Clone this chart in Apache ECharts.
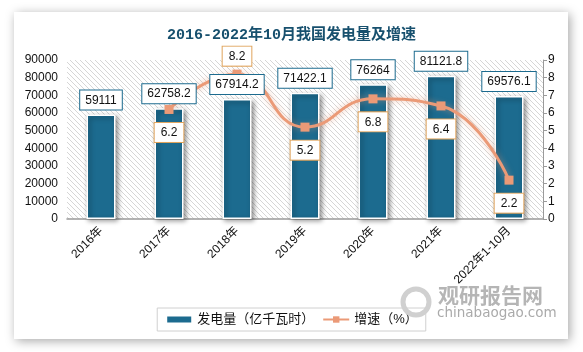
<!DOCTYPE html>
<html><head><meta charset="utf-8">
<script src="https://cdn.jsdelivr.net/npm/echarts@6/dist/echarts.min.js"></script>
<style>html,body{margin:0;padding:0;background:#fff;}#c{width:583px;height:352px;}</style>
</head><body><div id="c"></div>
<script>
const categories = ['2016年','2017年','2018年','2019年','2020年','2021年','2022年1-10月'];
const generation = [59111, 62758.2, 67914.2, 71422.1, 76264, 81121.8, 69576.1];
const growth = ['-', 6.2, 8.2, 5.2, 6.8, 6.4, 2.2];
const growthLabelPos = ['bottom','bottom','top','bottom','bottom','bottom','bottom'];

// hatch pattern
const pc = document.createElement('canvas');
pc.width = 5; pc.height = 5;
const px = pc.getContext('2d');
px.fillStyle = '#ffffff'; px.fillRect(0,0,5,5);
px.strokeStyle = '#d6d6d6'; px.lineWidth = 1;
px.beginPath();
px.moveTo(-1,-1); px.lineTo(6,6);
px.moveTo(-1,4); px.lineTo(1,6);
px.moveTo(4,-1); px.lineTo(6,1);
px.stroke();

const chart = echarts.init(document.getElementById('c'), null, {renderer:'canvas'});
const baseFont = "'Liberation Sans','Noto Sans CJK SC',sans-serif";
const barLabel = {show:true, position:'top', distance:5, fontSize:12, color:'#111', fontFamily:baseFont,
  backgroundColor:'#fff', borderColor:'#1c6b8f', borderWidth:1, padding:[4,5,3,5]};
chart.setOption({
  animation:false,
  backgroundColor:'#ffffff',
  graphic:[
    {type:'rect', z:-10, shape:{x:14,y:12,width:554,height:327},
     style:{fill:'#fff', shadowBlur:10, shadowColor:'rgba(0,0,0,0.35)', shadowOffsetX:2, shadowOffsetY:2}},
    {type:'text', z:5, left:438, top:285, style:{text:'观研报告网', fill:'#b5b5b5', font:"bold 21px 'Noto Sans CJK SC'"}},
    {type:'text', z:5, left:437, top:306, style:{text:'chinabaogao.com', fill:'#aaaaaa', font:"13.5px 'DejaVu Sans'"}},
    {type:'circle', z:5, shape:{cx:416,cy:302,r:13}, style:{fill:'none', stroke:'#d0d0d0', lineWidth:5}}
  ],
  title:{
    text:'2016-2022年10月我国发电量及增速', left:'center', top:23,
    textStyle:{fontSize:15, fontWeight:'bold', color:'#17506e', fontFamily:"'Liberation Mono','Noto Sans CJK SC',monospace"}
  },
  legend:{
    bottom:21, left:'center', itemGap:8,
    borderColor:'#d0d0d0', borderWidth:1, padding:[5,8],
    itemWidth:26, itemHeight:8,
    textStyle:{fontSize:13, color:'#111', fontFamily:baseFont},
    data:[{name:'发电量（亿千瓦时）', icon:'rect'},{name:'增速（%）'}]
  },
  grid:{left:67, right:40, top:60, bottom:133, show:true, borderWidth:0,
    backgroundColor:{image:pc, repeat:'repeat'}},
  xAxis:{
    type:'category', data:categories,
    axisLine:{lineStyle:{color:'#9a9a9a', width:1.5}},
    axisTick:{show:false},
    axisLabel:{rotate:45, fontSize:12, color:'#111', margin:10, interval:0, fontFamily:baseFont}
  },
  yAxis:[
    {type:'value', min:0, max:90000, interval:10000,
     axisLine:{show:false}, axisTick:{show:false}, splitLine:{show:false},
     axisLabel:{fontSize:12, color:'#111', margin:9, fontFamily:baseFont, formatter:v=>String(v)}},
    {type:'value', min:0, max:9, interval:1,
     axisLine:{show:true, lineStyle:{color:'#9a9a9a'}},
     axisTick:{show:true, length:4, lineStyle:{color:'#9a9a9a'}}, splitLine:{show:false},
     axisLabel:{fontSize:12, color:'#111', margin:5, fontFamily:baseFont, formatter:v=>String(v)}}
  ],
  series:[
    {name:'发电量（亿千瓦时）', type:'bar', data:generation, barWidth:29, z:2,
     itemStyle:{color:'#1c6b8f', borderColor:'#fff', borderWidth:1.5,
       shadowBlur:5, shadowColor:'rgba(0,0,0,0.45)', shadowOffsetX:2, shadowOffsetY:2},
     label:{show:false}},
    {name:'增速（%）', type:'line', yAxisIndex:1, smooth:0.5,
     data: growth.map((v,i)=>({value:v, label:{position:growthLabelPos[i], distance: growthLabelPos[i]==='top'?4:9}})),
     symbol:'rect', symbolSize:9, z:5,
     lineStyle:{color:'#eb9a77', width:3, shadowBlur:6, shadowColor:'rgba(235,154,119,0.6)'},
     itemStyle:{color:'#eb9a77'},
     label:{show:true, fontSize:12, color:'#111', fontFamily:baseFont, distance:9,
       backgroundColor:'#fff', borderColor:'#e0a45c', borderWidth:1, padding:[4,6,3,6]}},
    {name:'labels', type:'bar', data:generation, barWidth:29, barGap:'-100%', z:10, silent:true,
     itemStyle:{color:'rgba(0,0,0,0)'}, label:barLabel}
  ]
});
</script></body></html>
